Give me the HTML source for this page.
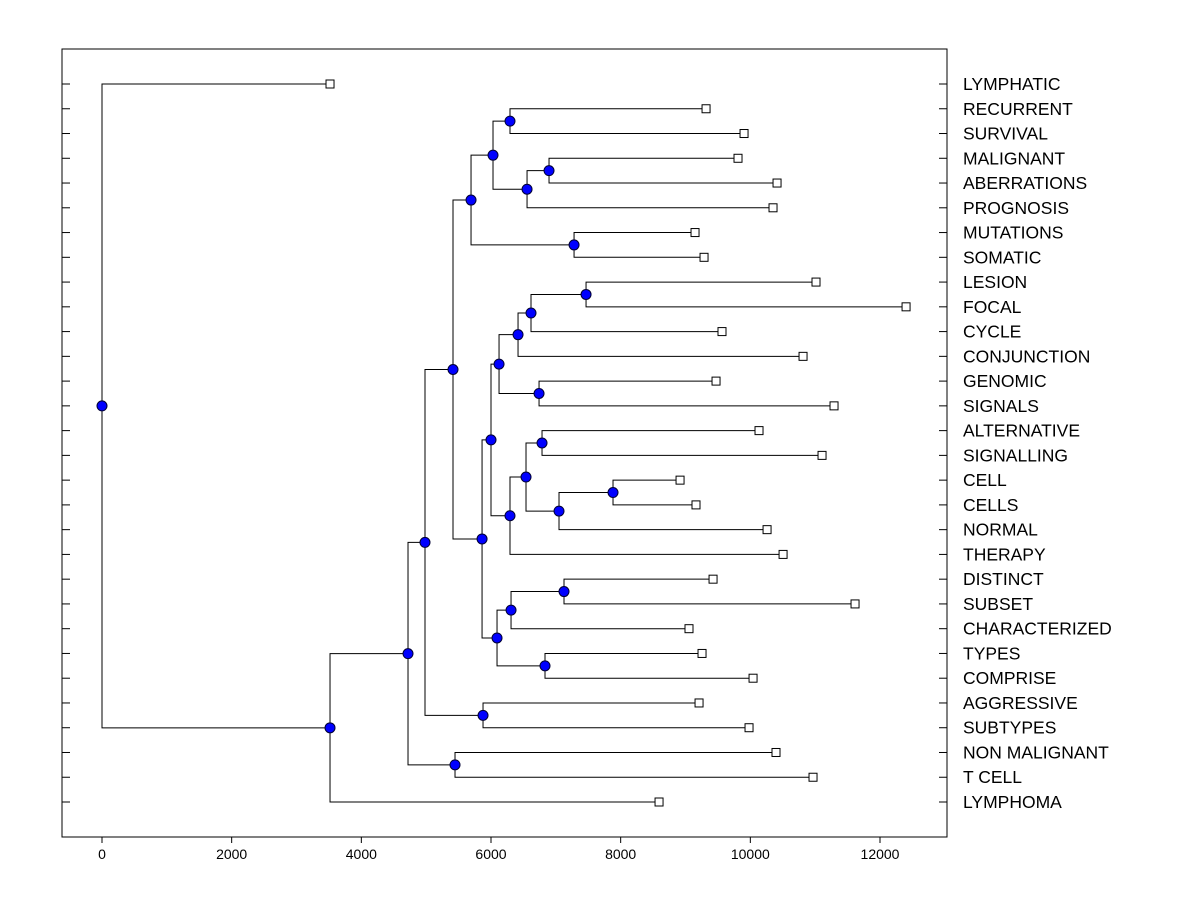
<!DOCTYPE html>
<html><head><meta charset="utf-8"><style>
html,body{margin:0;padding:0;background:#fff;}
svg{display:block;font-family:"Liberation Sans",Arial,sans-serif;}
</style></head><body>
<svg id="chart" width="1200" height="900" viewBox="0 0 1200 900" xmlns="http://www.w3.org/2000/svg">
<rect x="0" y="0" width="1200" height="900" fill="#fff"/>
<g id="lines"></g><g id="marks"></g><g id="axes"></g>
</svg>
<script>
const leafNames = ["LYMPHATIC","RECURRENT","SURVIVAL","MALIGNANT","ABERRATIONS","PROGNOSIS","MUTATIONS","SOMATIC","LESION","FOCAL","CYCLE","CONJUNCTION","GENOMIC","SIGNALS","ALTERNATIVE","SIGNALLING","CELL","CELLS","NORMAL","THERAPY","DISTINCT","SUBSET","CHARACTERIZED","TYPES","COMPRISE","AGGRESSIVE","SUBTYPES","NON MALIGNANT","T CELL","LYMPHOMA"];
const leafValues = [3517,9317,9903,9810,10412,10350,9147,9286,11013,12402,9563,10813,9471,11291,10134,11106,8916,9162,10258,10505,9425,11615,9054,9255,10042,9209,9980,10396,10967,8592];
const mergeLeft  = [1,3,31,30,6,33,8,36,37,12,38,14,16,42,41,44,40,20,47,23,48,46,35,25,52,27,54,56,0];
const mergeRight = [2,4,5,32,7,34,9,10,11,13,39,15,17,18,43,19,45,21,22,24,49,50,51,26,53,28,55,29,57];
const mergeValues = [6293,6895,6556,6031,7281,5692,7466,6617,6417,6741,6124,6787,7882,7049,6540,6293,6000,7126,6309,6833,6093,5862,5414,5877,4982,5445,4720,3517,0];
const xTicks = [0,2000,4000,6000,8000,10000,12000];

const NS="http://www.w3.org/2000/svg";
const L=62,R=947,T=49,B=837;
function xs(v){return 102+v*(880-102)/12000;}
function rowY(i){return 84+i*(802-84)/(leafNames.length-1);}
function mk(tag,attrs,parent){const e=document.createElementNS(NS,tag);for(const k in attrs)e.setAttribute(k,attrs[k]);parent.appendChild(e);return e;}
const gl=document.getElementById('lines'),gm=document.getElementById('marks'),ga=document.getElementById('axes');
const n=leafNames.length;
const nx=[],ny=[];
for(let i=0;i<n;i++){nx[i]=xs(leafValues[i]);ny[i]=rowY(i);}
for(let j=0;j<mergeValues.length;j++){
  const id=n+j,a=mergeLeft[j],b=mergeRight[j];
  nx[id]=xs(mergeValues[j]);ny[id]=(ny[a]+ny[b])/2;
  const p=`M${nx[a]},${ny[a]}H${nx[id]}V${ny[b]}H${nx[b]}`;
  const e=mk('path',{d:p,fill:'none',stroke:'#000','stroke-width':1},gl);
  
  
}
for(let i=0;i<n;i++){
  const e=mk('rect',{x:nx[i]-4,y:ny[i]-4,width:8,height:8,fill:'#fff',stroke:'#000','stroke-width':1},gm);
  
  
}
for(let j=0;j<mergeValues.length;j++){
  const id=n+j;
  const e=mk('circle',{cx:nx[id],cy:ny[id],r:5,fill:'#0000ff',stroke:'#000033','stroke-width':1},gm);
  
  
}
const frame=mk('rect',{x:L,y:T,width:R-L,height:B-T,fill:'none',stroke:'#000','stroke-width':1},ga);


for(let i=0;i<n;i++){
  const y=rowY(i);
  const t1=mk('line',{x1:L,x2:L+8,y1:y,y2:y,stroke:'#000'},ga);
  
  
  const t2=mk('line',{x1:R-8,x2:R,y1:y,y2:y,stroke:'#000'},ga);
  
  
  const tx=mk('text',{x:963,y:y+6,'font-size':17.5,fill:'#000'},ga);
  tx.textContent=leafNames[i];
  
  
}
for(const v of xTicks){
  const x=xs(v);
  const t=mk('line',{x1:x,x2:x,y1:B,y2:B+6,stroke:'#000'},ga);
  
  
  const tx=mk('text',{x:x,y:B+22,'font-size':14,'text-anchor':'middle',fill:'#000'},ga);
  tx.textContent=v;
  
  
}
</script>
</body></html>
